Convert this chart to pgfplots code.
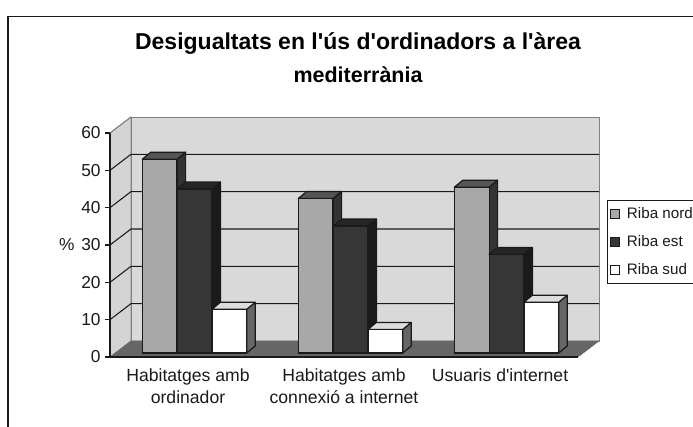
\documentclass[border=0pt]{standalone}
\usepackage{pgfplots}
\pgfplotsset{compat=1.18}
\usepackage{fontspec}
\setmainfont{Liberation Sans}[Ligatures=TeXOff]
\definecolor{wall}{HTML}{D9D9D9}
\definecolor{sidewall}{HTML}{D4D4D4}
\definecolor{floorc}{HTML}{666666}
\definecolor{nordf}{HTML}{A8A8A8}
\definecolor{nords}{HTML}{333333}
\definecolor{nordt}{HTML}{555555}
\definecolor{estf}{HTML}{363636}
\definecolor{ests}{HTML}{1A1A1A}
\definecolor{estt}{HTML}{262626}
\definecolor{sudf}{HTML}{FFFFFF}
\definecolor{suds}{HTML}{666666}
\definecolor{sudt}{HTML}{DDDDDD}
\definecolor{ink}{HTML}{1A1A1A}
% side and top faces of one bar: centre x, value, side colour, top colour
\newcommand\barfaces[4]{%
  \pgfmathsetmacro\bL{#1-0.11155}%
  \pgfmathsetmacro\bR{#1+0.11155}%
  \pgfmathsetmacro\bLL{\bL+0.0545}%
  \pgfmathsetmacro\bRR{\bR+0.0545}%
  \pgfmathsetmacro\bT{#2+1.875}%
  \edef\tmp{%
    \noexpand\addplot[forget plot,fill=#3,draw=ink,line width=0.9pt,line join=round] coordinates {(\bR,0) (\bRR,1.875) (\bRR,\bT) (\bR,#2)} -- cycle;
    \noexpand\addplot[forget plot,fill=#4,draw=ink,line width=0.9pt,line join=round] coordinates {(\bL,#2) (\bLL,\bT) (\bRR,\bT) (\bR,#2)} -- cycle;
  }\tmp
}
\begin{document}
\begin{tikzpicture}
\path[use as bounding box] (0pt,0pt) rectangle (519.75pt,320.25pt);
\draw[ink,line width=0.9pt] (6pt,-20pt) rectangle (560pt,308pt);
\begin{axis}[
  name=walls, at={(82.5pt,52.5pt)}, anchor=south west,
  scale only axis, width=351pt, height=168pt,
  xmin=0, xmax=3, ymin=0, ymax=60,
  clip=false, axis on top,
  axis lines*=left, axis line style={-,ink,line width=0.9pt},
  tick align=outside, major tick length=3.5pt,
  tick style={ink,line width=0.9pt},
  ytick={0,10,20,30,40,50,60},
  xtick={0.5,1.5,2.5},
  xticklabels={Habitatges amb\\ordinador,Habitatges amb\\connexió a internet,Usuaris d'internet},
  xtick style={draw=none},
  extra x ticks={0,1,2,3}, extra x tick labels={},
  extra x tick style={tick style={draw=ink,line width=0.9pt}},
  xticklabel style={align=center,font=\fontsize{13.2}{16.5}\selectfont,text=ink,yshift=-1.5pt},
  yticklabel style={font=\fontsize{13}{15}\selectfont,text=ink},
  /pgf/number format/assume math mode=true,
  ylabel={\%}, ylabel style={rotate=-90,font=\fontsize{13}{15}\selectfont,text=ink,at={(axis description cs:-0.092,0.5)},anchor=center},
  title style={at={(axis description cs:0.53,1.3)},anchor=center,align=center,text=black},
  title={{\fontsize{17.25}{24}\selectfont\bfseries Desigualtats en l'ús d'ordinadors a l'àrea}\\[8pt]{\fontsize{16.1}{24}\selectfont\bfseries mediterrània}},
]
\addplot[forget plot,fill=sidewall,draw=gray] coordinates {(0,0) (0.1346,4.286) (0.1346,64.286) (0,60)} -- cycle;
\addplot[forget plot,fill=wall,draw=gray] coordinates {(0.1346,4.286) (3.1346,4.286) (3.1346,64.286) (0.1346,64.286)} -- cycle;
\addplot[forget plot,fill=floorc,draw=floorc] coordinates {(0,0) (0.1346,4.286) (3.1346,4.286) (3,0)} -- cycle;
\addplot[forget plot,draw=ink,line width=0.8pt] coordinates {(0,10) (0.1346,14.286) (3.1346,14.286)};
\addplot[forget plot,draw=ink,line width=0.8pt] coordinates {(0,20) (0.1346,24.286) (3.1346,24.286)};
\addplot[forget plot,draw=ink,line width=0.8pt] coordinates {(0,30) (0.1346,34.286) (3.1346,34.286)};
\addplot[forget plot,draw=ink,line width=0.8pt] coordinates {(0,40) (0.1346,44.286) (3.1346,44.286)};
\addplot[forget plot,draw=ink,line width=0.8pt] coordinates {(0,50) (0.1346,54.286) (3.1346,54.286)};
\addplot[forget plot,draw=gray,line width=0.8pt] coordinates {(0,60) (0.1346,64.286)};
\end{axis}
\begin{axis}[
  at={(87.375pt,55.5pt)}, anchor=south west,
  scale only axis, width=351pt, height=168pt,
  xmin=0, xmax=3, ymin=0, ymax=60,
  clip=false, hide axis,
  legend cell align=left,
  legend style={at={(axis cs:3.142,41)},anchor=north west,draw=ink,line width=0.9pt,fill=white,
    font=\fontsize{11.4}{14}\selectfont,text=ink,inner xsep=2pt,inner ysep=3pt,
    row sep=7.5pt, /tikz/every odd column/.append style={column sep=3pt}},
  legend image code/.code={\draw[#1,line width=0.8pt] (0pt,-3.4pt) rectangle (7pt,3.4pt);},
]
% Riba nord
\barfaces{0.27690}{51.9}{nords}{nordt}
\barfaces{1.27690}{41.4}{nords}{nordt}
\barfaces{2.27690}{44.4}{nords}{nordt}
\addplot[ybar,bar width=26.1pt,bar shift=0pt,fill=nordf,draw=ink,line width=0.9pt] coordinates {(0.2769,51.9) (1.2769,41.4) (2.2769,44.4)};
\addlegendentry{Riba nord}
% Riba est
\barfaces{0.5}{43.9}{ests}{estt}
\barfaces{1.5}{34.0}{ests}{estt}
\barfaces{2.5}{26.4}{ests}{estt}
\addplot[ybar,bar width=26.1pt,bar shift=0pt,fill=estf,draw=ink,line width=0.9pt] coordinates {(0.5,43.9) (1.5,34.0) (2.5,26.4)};
\addlegendentry{Riba est}
% Riba sud
\barfaces{0.72310}{11.7}{suds}{sudt}
\barfaces{1.72310}{6.3}{suds}{sudt}
\barfaces{2.72310}{13.6}{suds}{sudt}
\addplot[ybar,bar width=26.1pt,bar shift=0pt,fill=sudf,draw=ink,line width=0.9pt] coordinates {(0.7231,11.7) (1.7231,6.3) (2.7231,13.6)};
\addlegendentry{Riba sud}
\end{axis}
\end{tikzpicture}
\end{document}
